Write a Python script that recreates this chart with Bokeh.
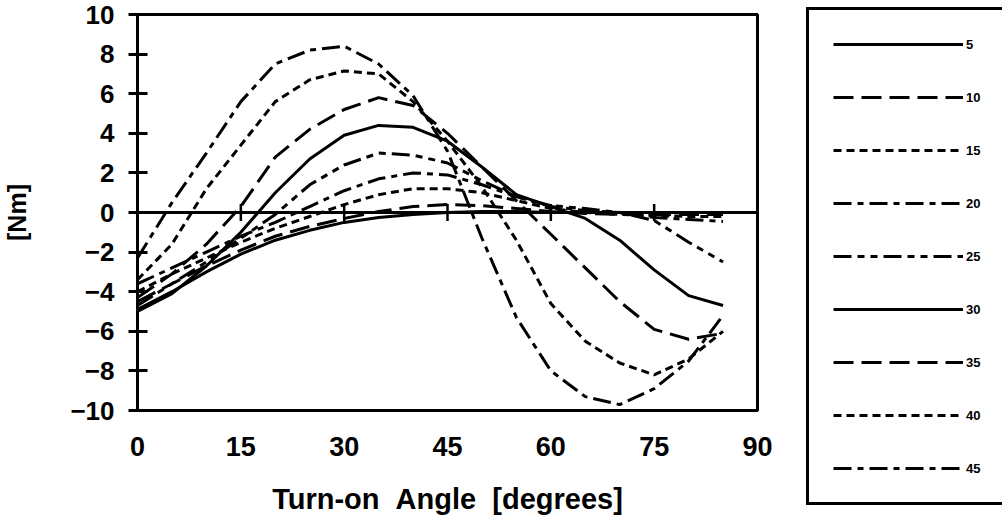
import math
from bokeh.plotting import figure
from bokeh.layouts import row, column
from bokeh.models import Range1d, FixedTicker, Legend, LegendItem, Span
from bokeh.embed import file_html
from bokeh.resources import INLINE

# ---------------- data ----------------
angle = [0, 5, 10, 15, 20, 25, 30, 35, 40, 45, 50, 55, 60, 65, 70, 75, 80, 85]
series_labels = ["5", "10", "15", "20", "25", "30", "35", "40", "45"]

t5 = [-4.9, -4.0, -3.0, -2.1, -1.4, -0.9, -0.5, -0.25, -0.1, 0.0, 0.05, 0.05, 0.0, 0.0, 0.0, 0.0, 0.0, 0.0]
t10 = [-4.5, -3.6, -2.7, -1.9, -1.2, -0.7, -0.3, 0.05, 0.3, 0.4, 0.35, 0.2, 0.05, -0.05, -0.1, -0.1, -0.1, -0.1]
t15 = [-4.0, -3.1, -2.3, -1.5, -0.8, -0.2, 0.4, 0.9, 1.2, 1.2, 1.0, 0.6, 0.2, 0.0, -0.1, -0.15, -0.2, -0.2]
t20 = [-3.6, -2.8, -2.0, -1.2, -0.5, 0.3, 1.1, 1.7, 2.0, 1.9, 1.4, 0.8, 0.3, 0.1, 0.0, -0.25, -0.35, -0.45]
t25 = [-4.7, -3.6, -2.5, -1.3, -0.1, 1.4, 2.4, 3.0, 2.9, 2.5, 1.6, 0.8, 0.35, 0.2, 0.0, -0.4, -1.5, -2.5]
t30 = [-5.0, -4.1, -2.7, -1.0, 1.0, 2.7, 3.9, 4.4, 4.3, 3.6, 2.3, 0.9, 0.3, -0.3, -1.4, -2.9, -4.2, -4.7]
t35 = [-4.3, -3.1, -1.6, 0.3, 2.8, 4.2, 5.2, 5.8, 5.4, 4.0, 2.3, 0.6, -1.1, -2.8, -4.5, -5.9, -6.4, -6.1]
t40 = [-3.4, -1.6, 1.2, 3.4, 5.6, 6.7, 7.15, 7.0, 5.6, 3.6, 1.3, -1.4, -4.6, -6.5, -7.6, -8.2, -7.4, -6.0]
t45 = [-2.3, 0.5, 3.0, 5.6, 7.5, 8.2, 8.4, 7.5, 5.9, 3.1, -1.3, -5.3, -8.0, -9.3, -9.7, -8.9, -7.5, -5.2]

x_ticks = [0, 15, 30, 45, 60, 75, 90]
y_ticks = [-10, -8, -6, -4, -2, 0, 2, 4, 6, 8, 10]

series = [t5, t10, t15, t20, t25, t30, t35, t40, t45]
dashes = ["solid", "20 8", "8 5", "18 6 6 6", "18 6 7 6 7 6",
          "solid", "20 8", "8 5", "18 6 6 6"]

FONT = "Liberation Sans"

# ---------------- main chart ----------------
p = figure(width=790, height=527, output_backend="svg", toolbar_location=None,
           x_range=Range1d(0, 90), y_range=Range1d(-10, 10),
           min_border_left=131, min_border_right=33,
           min_border_top=14, min_border_bottom=117)
p.background_fill_color = "white"
p.border_fill_color = "white"
p.grid.visible = False
p.outline_line_color = "black"
p.outline_line_width = 3
p.outline_line_alpha = 1

# y axis
ya = p.yaxis[0]
ya.ticker = FixedTicker(ticks=y_ticks)
ya.minor_tick_line_color = None
ya.axis_line_width = 3
ya.major_tick_line_width = 3
ya.major_tick_in = 10
ya.major_tick_out = 9
ya.major_label_standoff = 14
ya.major_label_text_font = FONT
ya.major_label_text_font_style = "bold"
ya.major_label_text_font_size = "26px"
ya.major_label_text_color = "black"
ya.axis_label = "[Nm]"
ya.axis_label_text_font = FONT
ya.axis_label_text_font_style = "bold"
ya.axis_label_text_font_size = "25px"
ya.axis_label_text_color = "black"
ya.axis_label_standoff = 36

# x axis
xa = p.xaxis[0]
xa.ticker = FixedTicker(ticks=x_ticks)
xa.minor_tick_line_color = None
xa.major_tick_line_color = None
xa.axis_line_color = None
xa.major_tick_in = 0
xa.major_tick_out = 0
xa.major_label_standoff = 26
xa.major_label_text_font = FONT
xa.major_label_text_font_style = "bold"
xa.major_label_text_font_size = "27px"
xa.major_label_text_color = "black"
xa.axis_label = "Turn-on\u00a0\u00a0Angle\u00a0\u00a0[degrees]"
xa.axis_label_text_font = FONT
xa.axis_label_text_font_style = "bold"
xa.axis_label_text_font_size = "29px"
xa.axis_label_text_color = "black"
xa.axis_label_standoff = 24

# zero line with tick crosses
p.add_layout(Span(location=0, dimension="width", line_color="black", line_width=3))
inner_ticks = x_ticks[1:-1]
p.scatter(x=inner_ticks, y=[0] * len(inner_ticks), marker="dash", size=17,
          angle=math.pi / 2, line_color="black", line_width=2.5)

for vals, d in zip(series, dashes):
    p.line(angle, vals, line_color="black", line_width=3, line_dash=d)

# ---------------- legend panel ----------------
q = figure(width=212, height=527, output_backend="svg", toolbar_location=None,
           x_range=Range1d(0, 1), y_range=Range1d(0, 1),
           x_axis_location=None, y_axis_location=None,
           min_border=0, min_border_left=0, min_border_right=0,
           min_border_top=0, min_border_bottom=0)
q.grid.visible = False
q.outline_line_color = None
q.background_fill_color = "white"
q.border_fill_color = "white"

# key glyphs (kept outside the visible range, only their styles are shown in the key)
leg_renderers = []
for d in dashes:
    r = q.line(x=[-3, -2], y=[-3, -2], line_color="black", line_width=3, line_dash=d)
    leg_renderers.append(r)

legend = Legend(items=[LegendItem(label=lab, renderers=[r])
                       for lab, r in zip(series_labels, leg_renderers)],
                location=(16, 22))
legend.orientation = "vertical"
legend.glyph_width = 130
legend.glyph_height = 20
legend.label_height = 20
legend.label_width = 40
legend.spacing = 33
legend.padding = 24
legend.margin = 0
legend.label_standoff = 3
legend.label_text_font = FONT
legend.label_text_font_style = "bold"
legend.label_text_font_size = "13px"
legend.label_text_color = "black"
legend.border_line_color = "black"
legend.border_line_width = 3
legend.border_line_alpha = 1
legend.background_fill_color = "white"
legend.background_fill_alpha = 1
q.add_layout(legend)

layout = row(p, column(q))
open("out.html", "w").write(file_html(layout, INLINE))
